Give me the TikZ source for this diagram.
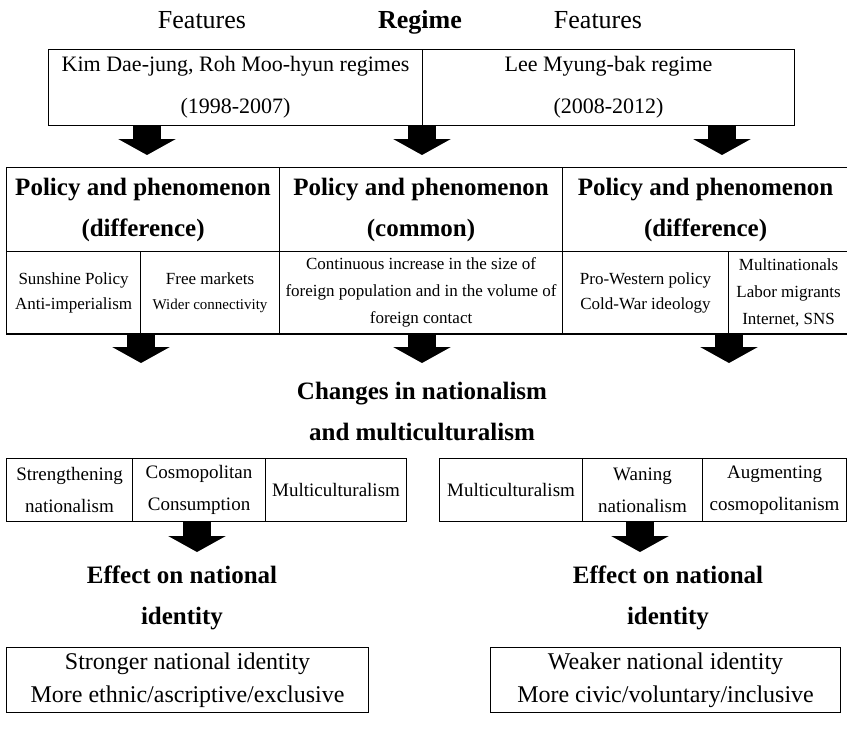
\documentclass[tikz,border=0pt]{standalone}
\usepackage{fontspec}
\setmainfont{Liberation Serif}
\usetikzlibrary{arrows.meta}

\begin{document}
\begin{tikzpicture}[x=1pt, y=-1pt,
  every node/.style = {inner sep=0pt, align=center},
  box/.style = {draw, line width=1.1pt, anchor=north west},
  headtxt/.style = {anchor=base, font=\fontsize{26}{30}\selectfont},
  regtxt/.style = {font=\fontsize{22}{42}\selectfont},
  boldtxt/.style = {font=\bfseries\fontsize{25}{41}\selectfont},
  celltxt/.style = {font=\fontsize{17}{27}\selectfont},
  smalltxt/.style = {font=\fontsize{17}{25}\selectfont},
  lowtxt/.style = {font=\fontsize{19}{32}\selectfont},
  idtxt/.style = {font=\fontsize{24}{33}\selectfont},
  bigarrow/.style = {line width=28pt, -{Triangle[width=57pt, length=16pt]}}]
  \useasboundingbox (0,0) rectangle (847,729);

  \node[headtxt] (featL) at (202,28) {Features};
  \node[headtxt, font=\bfseries\fontsize{26}{30}\selectfont] (regime) at (420,28) {Regime};
  \node[headtxt] (featR) at (598,28) {Features};

  \node[box, regtxt, minimum width=374pt, minimum height=76pt] (kim) at (48,49)
    {Kim Dae-jung, Roh Moo-hyun regimes\\(1998-2007)};
  \node[box, regtxt, minimum width=372pt, minimum height=76pt] (lee) at (422,49)
    {Lee Myung-bak regime\\(2008-2012)};

  \node[box, boldtxt, minimum width=273pt, minimum height=84pt] (hdA) at (6,167)
    {Policy and phenomenon\\(difference)};
  \node[box, boldtxt, minimum width=283pt, minimum height=84pt] (hdB) at (279,167)
    {Policy and phenomenon\\(common)};
  \node[box, boldtxt, minimum width=286pt, minimum height=84pt] (hdC) at (562,167)
    {Policy and phenomenon\\(difference)};

  \node[box, smalltxt, minimum width=134pt, minimum height=82pt] (sunshine) at (6,251)
    {Sunshine Policy\\Anti-imperialism};
  \node[box, smalltxt, minimum width=139pt, minimum height=82pt] (market) at (140,251)
    {Free markets\\{\fontsize{15}{25}\selectfont Wider connectivity}};
  \node[box, celltxt, minimum width=283pt, minimum height=82pt] (foreign) at (279,251)
    {Continuous increase in the size of\\foreign population and in the volume of\\foreign contact};
  \node[box, smalltxt, minimum width=166pt, minimum height=82pt] (western) at (562,251)
    {Pro-Western policy\\Cold-War ideology};
  \node[box, celltxt, minimum width=120pt, minimum height=82pt] (multi) at (728,251)
    {Multinationals\\Labor migrants\\Internet, SNS};
  \draw[line width=2pt] (sunshine.south west) -- (multi.south east);

  \node[boldtxt] (changes) at (422,411) {Changes in nationalism\\and multiculturalism};

  \node[box, lowtxt, minimum width=126pt, minimum height=63pt] (strong) at (6,458)
    {Strengthening\\nationalism};
  \node[box, lowtxt, minimum width=133pt, minimum height=63pt] (cosmo) at (132,458)
    {Cosmopolitan\\Consumption};
  \node[box, lowtxt, minimum width=141pt, minimum height=63pt] (mcL) at (265,458)
    {Multiculturalism};
  \node[box, lowtxt, minimum width=143pt, minimum height=63pt] (mcR) at (439,458)
    {Multiculturalism};
  \node[box, lowtxt, minimum width=120pt, minimum height=63pt] (waning) at (582,458)
    {Waning\\nationalism};
  \node[box, lowtxt, minimum width=144pt, minimum height=63pt] (augment) at (702,458)
    {Augmenting\\cosmopolitanism};

  \node[boldtxt] (effL) at (182,598) {Effect on national\\identity};
  \node[boldtxt] (effR) at (668,598) {Effect on national\\identity};

  \node[box, idtxt, minimum width=362pt, minimum height=65pt] (stronger) at (6,647)
    {Stronger national identity\\More ethnic/ascriptive/exclusive};
  \node[box, idtxt, minimum width=350pt, minimum height=65pt] (weaker) at (490,647)
    {Weaker national identity\\More civic/voluntary/inclusive};

  \coordinate (t1) at (147,155);
  \coordinate (t2) at (422,155);
  \coordinate (t3) at (722,155);
  \coordinate (u1) at (141,363);
  \coordinate (u2) at (422,363);
  \coordinate (u3) at (729,363);
  \coordinate (v1) at (197,552);
  \coordinate (v2) at (640,552);

  \draw[bigarrow] (kim.south -| t1) -- (t1);
  \draw[bigarrow] (kim.south -| t2) -- (t2);
  \draw[bigarrow] (lee.south -| t3) -- (t3);
  \draw[bigarrow] (sunshine.south -| u1) -- (u1);
  \draw[bigarrow] (foreign.south -| u2) -- (u2);
  \draw[bigarrow] (western.south -| u3) -- (u3);
  \draw[bigarrow] (strong.south -| v1) -- (v1);
  \draw[bigarrow] (augment.south -| v2) -- (v2);
\end{tikzpicture}
\end{document}
